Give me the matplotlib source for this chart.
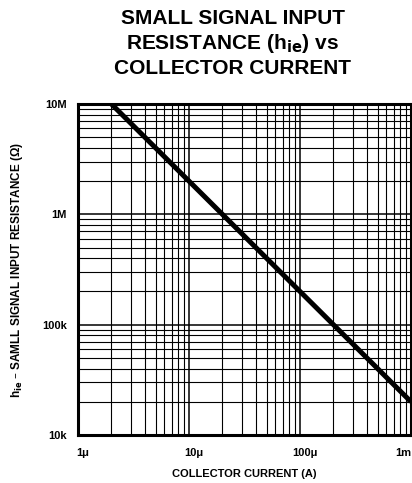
#!/usr/bin/env python3
"""Small-signal input resistance (h_ie) vs collector current, datasheet style."""
import matplotlib

matplotlib.use("Agg")
import matplotlib.pyplot as plt
import matplotlib.transforms as mtransforms
from matplotlib.ticker import LogLocator, NullFormatter

# Curve (straight line on log-log)
ic_amps = [2e-6, 1e-3]
hie_ohms = [10e6, 20e3]

x_ticks = [1e-6, 1e-5, 1e-4, 1e-3]
x_labels = ["1\u03bc", "10\u03bc", "100\u03bc", "1m"]
y_ticks = [1e4, 1e5, 1e6, 1e7]
y_labels = ["10k", "100k", "1M", "10M"]

plt.rcParams["font.family"] = ["Liberation Sans", "DejaVu Sans"]

W, H = 412, 483
fig = plt.figure(figsize=(W / 100, H / 100), dpi=100)
ax = fig.add_axes([78 / W, (H - 435) / H, (411 - 78) / W, (435 - 104) / H])

ax.set_xscale("log")
ax.set_yscale("log")
ax.set_xlim(1e-6, 1e-3)
ax.set_ylim(1e4, 1e7)

ax.plot(ic_amps, hie_ohms, color="black", linewidth=3.6,
        solid_capstyle="butt", zorder=3)

ax.xaxis.set_minor_locator(LogLocator(base=10, subs=range(2, 10)))
ax.yaxis.set_minor_locator(LogLocator(base=10, subs=range(2, 10)))
ax.xaxis.set_minor_formatter(NullFormatter())
ax.yaxis.set_minor_formatter(NullFormatter())
ax.grid(True, which="major", color="black", linewidth=1.1)
ax.grid(True, which="minor", color="black", linewidth=0.8)
ax.set_axisbelow(True)

ax.set_xticks(x_ticks, x_labels, fontsize=8, fontweight="bold")
ax.set_yticks(y_ticks, y_labels, fontsize=8, fontweight="bold")
ax.tick_params(which="both", length=0, pad=9)
ax.tick_params(axis="y", pad=8)
shift = mtransforms.ScaledTranslation(5 / 100, 0, fig.dpi_scale_trans)
xlabs = ax.get_xticklabels()
for lab in xlabs[:-1]:
    lab.set_transform(lab.get_transform() + shift)
xlabs[-1].set_horizontalalignment("right")

for side in ["top", "left", "bottom", "right"]:
    ax.spines[side].set_linewidth(2.2)
    ax.spines[side].set_color("black")

ax.set_xlabel("COLLECTOR CURRENT (A)", fontsize=8, fontweight="bold",
              labelpad=8)
ax.set_ylabel("h$_{\\mathbf{ie}}$ \u2013 SAMLL SIGNAL INPUT RESISTANCE (\u03a9)",
              fontsize=8.5, fontweight="bold", labelpad=12)

fig.text(0.565, 0.982,
         "SMALL SIGNAL INPUT\nRESISTANCE (h$_{\\mathbf{ie}}$) vs\nCOLLECTOR CURRENT",
         ha="center", va="top", fontsize=15, fontweight="bold",
         linespacing=1.25)

fig.savefig("out.png", dpi=100)
